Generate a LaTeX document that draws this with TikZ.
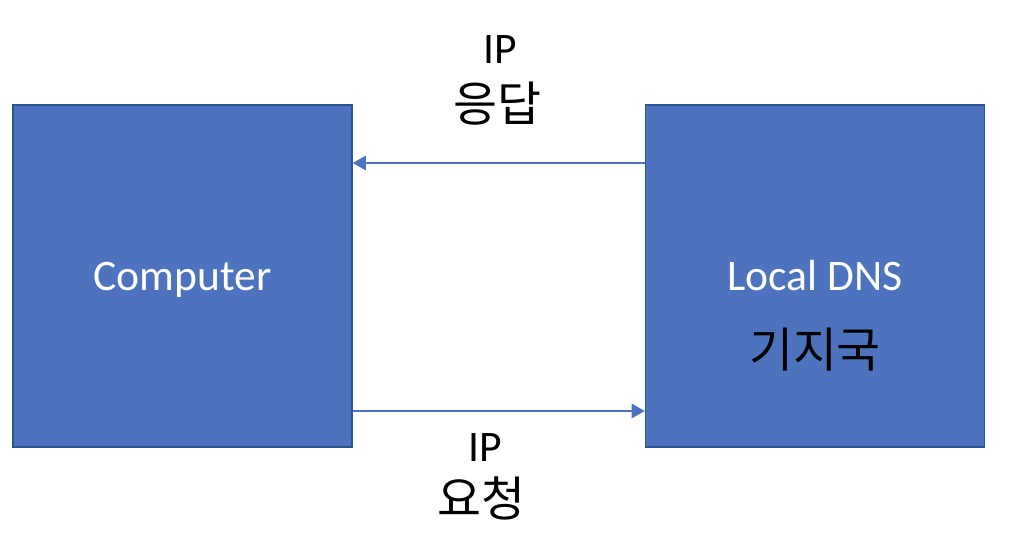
\documentclass[tikz,border=0pt]{standalone}
\usepackage{fontspec}
\setmainfont{Carlito}
\newfontfamily\kor{Noto Sans CJK KR}
\usetikzlibrary{arrows.meta}

\definecolor{boxblue}{HTML}{4E73BE}
\definecolor{boxedge}{HTML}{2F528F}

\tikzset{
    server/.style = {
        draw=boxedge,
        line width=0.9pt,
        fill=boxblue,
        minimum width=8.475cm,
        minimum height=8.55cm,
        text=white,
        text depth=0pt,
        font=\fontsize{31}{36}\selectfont
    },
    message/.style = {
        boxblue,
        line width=1pt,
        -{Triangle[length=0.33cm,width=0.36cm]}
    },
    label/.style = {
        align=center,
        font=\fontsize{31}{36}\selectfont
    },
    hangul/.style = {
        align=center,
        font=\kor\fontsize{34}{40}\selectfont
    }
}

\begin{document}
\begin{tikzpicture}
    \useasboundingbox (0,0) rectangle (25.4,13.55);

    % Draw the two boxes
    \node[server] (comp) at (4.5625,6.65) {Computer};
    \node[server] (dns) at (20.375,6.65) {};
    \node[label, white] (local) at (20.375,6.65) {Local DNS};
    \node[hangul] (station) at (20.375,4.8) {기지국};

    % Draw arrows
    \draw[message] ([yshift=2.825cm]dns.west) -- ([yshift=2.825cm]comp.east);
    \draw[message] ([yshift=-3.375cm]comp.east) -- ([yshift=-3.375cm]dns.west);

    % Draw labels
    \node[label] (ipres) at (12.5,12.3) {IP};
    \node[hangul] (res) at (12.425,10.95) {응답};
    \node[label] (ipreq) at (12.125,2.35) {IP};
    \node[hangul] (req) at (12.025,1.1) {요청};
\end{tikzpicture}
\end{document}
